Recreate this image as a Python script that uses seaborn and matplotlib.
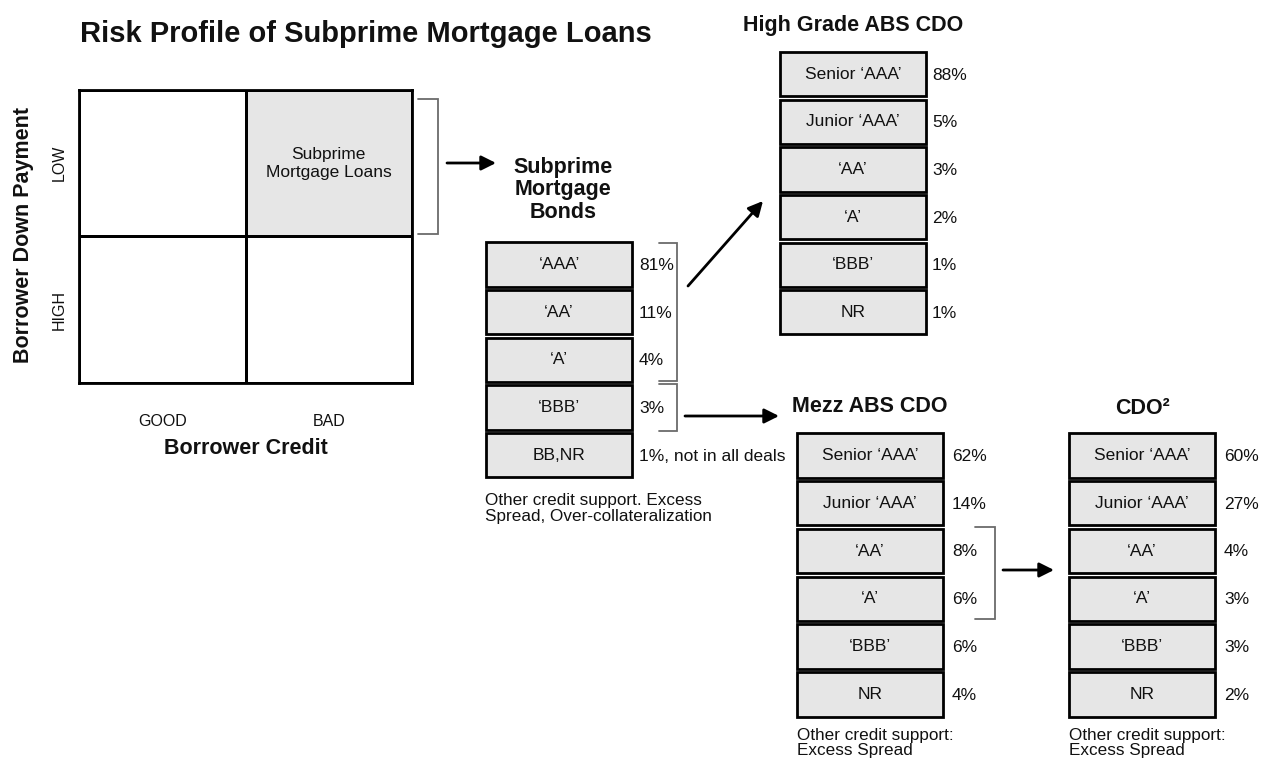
import numpy as np
import pandas as pd
import matplotlib
matplotlib.use('Agg')
import matplotlib.pyplot as plt
import seaborn as sns
from matplotlib.colors import ListedColormap

W, H = 1263, 760
FILL = '#e6e6e6'
INK = '#111111'
BRACKET = '#6b6b6b'

# --- data ---
credit = ['GOOD', 'BAD']
down_payment = ['LOW', 'HIGH']
subprime_cell = [[0, 1], [0, 0]]
cell_text = [['', 'Subprime\nMortgage Loans'], ['', '']]

bond_tranches = ['‘AAA’', '‘AA’', '‘A’', '‘BBB’', 'BB,NR']
bond_pct = [81, 11, 4, 3, 1]
bond_notes = ['', '', '', '', ', not in all deals']

cdo_tranches = ['Senior ‘AAA’', 'Junior ‘AAA’', '‘AA’', '‘A’', '‘BBB’', 'NR']
high_grade_pct = [88, 5, 3, 2, 1, 1]
mezz_pct = [62, 14, 8, 6, 6, 4]
cdo2_pct = [60, 27, 4, 3, 3, 2]

sns.set_theme(style='white')
plt.rcParams['font.family'] = ['Liberation Sans', 'DejaVu Sans']
plt.rcParams['text.color'] = INK

BOX_W = 146


def px_axes(fig, x0, y0, x1, y1):
    """Axes placed with pixel coords measured from the top-left corner."""
    return fig.add_axes([x0 / W, 1 - y1 / H, (x1 - x0) / W, (y1 - y0) / H])


def tranche_stack(fig, x0, top, step, labels, pcts, notes=None, gap=8):
    n = len(labels)
    ax = px_axes(fig, x0, top, x0 + BOX_W, top + n * step)
    sns.barplot(x=[1] * n, y=labels, orient='h', color=FILL, edgecolor='black',
                linewidth=2, width=0.93, ax=ax)
    ax.bar_label(ax.containers[0], labels=labels, label_type='center',
                 fontsize=12.5, color=INK)
    notes = notes or [''] * n
    for i, (p, note) in enumerate(zip(pcts, notes)):
        ax.annotate(f'{p}%{note}', xy=(1, i), xytext=(gap, -1), textcoords='offset pixels',
                    va='center', ha='left', fontsize=12.5, color=INK, annotation_clip=False)
    for patch in ax.patches:
        patch.set_clip_on(False)
    ax.set_xlim(0, 1)
    ax.set_ylim(n - 0.5, -0.5)
    ax.axis('off')
    return ax


fig = plt.figure(figsize=(W / 100, H / 100), dpi=100)

# --- risk profile grid ---
ax_grid = px_axes(fig, 79, 90, 412, 383)
grid_df = pd.DataFrame(subprime_cell, index=down_payment, columns=credit)
sns.heatmap(grid_df, cmap=ListedColormap(['white', FILL]), cbar=False,
            linewidths=2, linecolor='black', annot=np.array(cell_text), fmt='',
            annot_kws=dict(fontsize=12.5, color=INK, linespacing=1.25), ax=ax_grid)
for s in ax_grid.spines.values():
    s.set_visible(True)
    s.set_linewidth(2)
    s.set_color('black')
ax_grid.tick_params(length=0, labelsize=11.5, labelcolor=INK)
ax_grid.tick_params(axis='x', pad=22)
ax_grid.tick_params(axis='y', pad=9)
plt.setp(ax_grid.get_yticklabels(), rotation=90, va='center')
ax_grid.set_xlabel('')
ax_grid.set_ylabel('')

# --- tranche stacks ---
tranche_stack(fig, 486, 240.5, 47.7, bond_tranches, bond_pct, bond_notes, gap=7)
tranche_stack(fig, 780, 50.5, 47.6, cdo_tranches, high_grade_pct, gap=6)
tranche_stack(fig, 797, 431.5, 47.8, cdo_tranches, mezz_pct, gap=9)
tranche_stack(fig, 1069, 431.5, 47.8, cdo_tranches, cdo2_pct, gap=9)

# --- overlay for titles, arrows and brackets ---
ov = fig.add_axes([0, 0, 1, 1])
ov.set_xlim(0, W)
ov.set_ylim(H, 0)
ov.axis('off')

ov.text(80, 34, 'Risk Profile of Subprime Mortgage Loans', fontsize=21,
        fontweight='bold', ha='left', va='center')
ov.text(24, 235, 'Borrower Down Payment', fontsize=15.5, fontweight='bold',
        rotation=90, ha='center', va='center')
ov.text(246, 448, 'Borrower Credit', fontsize=15.5, fontweight='bold',
        ha='center', va='center')
ov.text(563, 190, 'Subprime\nMortgage\nBonds', fontsize=15.5, fontweight='bold',
        ha='center', va='center', linespacing=1.1)
ov.text(853, 25, 'High Grade ABS CDO', fontsize=15.5, fontweight='bold',
        ha='center', va='center')
ov.text(870, 407, 'Mezz ABS CDO', fontsize=15.5, fontweight='bold',
        ha='center', va='center')
ov.text(1142, 408, 'CDO²', fontsize=15.5, fontweight='bold',
        ha='center', va='center')

ov.text(485, 493, 'Other credit support. Excess\nSpread, Over-collateralization',
        fontsize=12.3, ha='left', va='top', linespacing=1.05)
ov.text(797, 758, 'Other credit support:\nExcess Spread',
        fontsize=12.3, ha='left', va='bottom', linespacing=1.0)
ov.text(1069, 758, 'Other credit support:\nExcess Spread',
        fontsize=12.3, ha='left', va='bottom', linespacing=1.0)


# brackets
def bracket(x0, x1, y0, y1):
    ov.plot([x0, x1, x1, x0], [y0, y0, y1, y1], color=BRACKET, lw=1.3,
            solid_joinstyle='miter')


bracket(418, 438, 99, 234)
bracket(659, 677, 243, 381)
bracket(659, 677, 384, 431)
bracket(975, 995, 527, 619)

# arrows
arrow_kw = dict(arrowstyle='-|>', color='black', lw=2, mutation_scale=22,
                shrinkA=0, shrinkB=0)
for start, end in [((447, 163), (496, 163)),
                   ((688, 286), (763, 201)),
                   ((685, 416), (779, 416)),
                   ((1003, 570), (1054, 570))]:
    ov.annotate('', xy=end, xytext=start, arrowprops=arrow_kw)

fig.savefig('out.png', dpi=100)
